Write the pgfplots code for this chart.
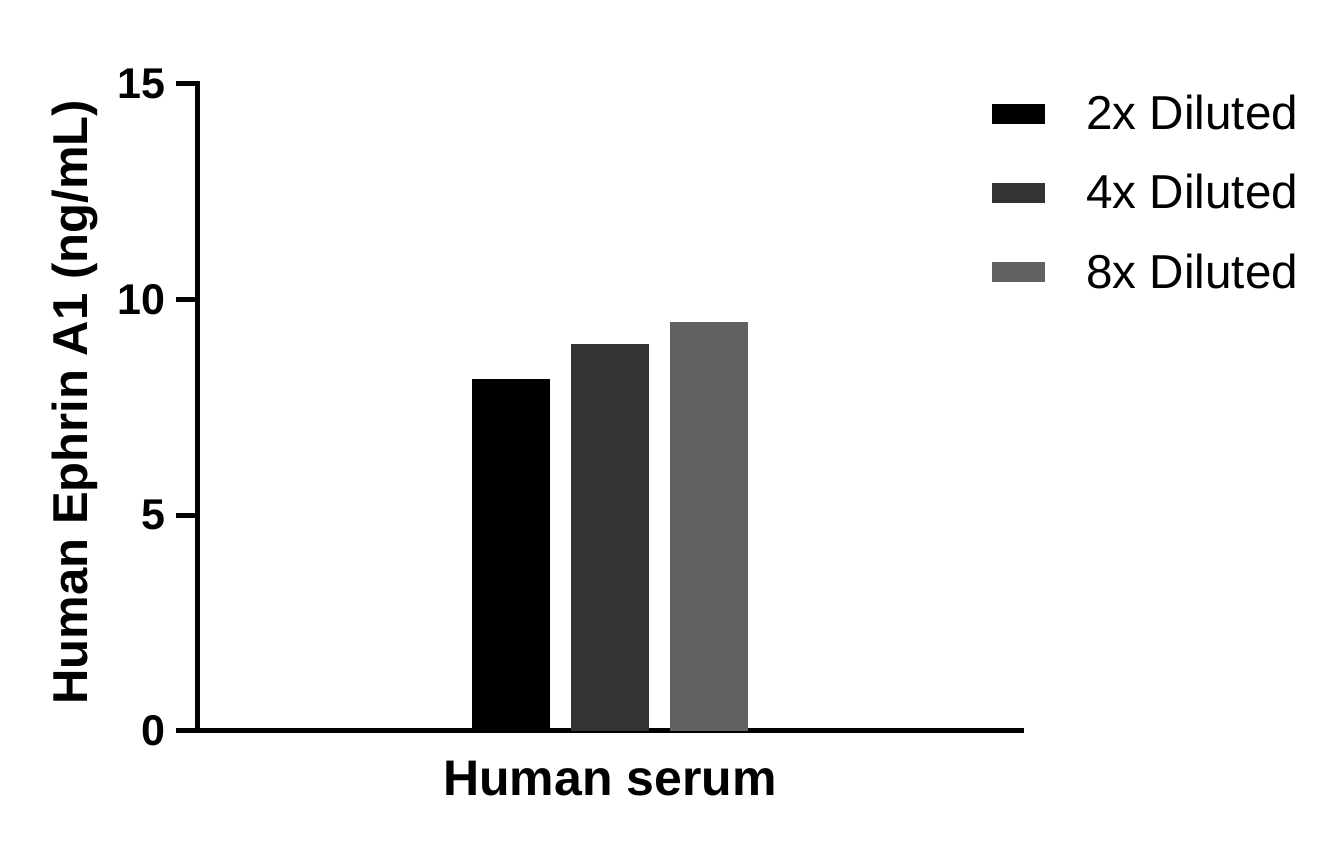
\documentclass[border=0pt]{standalone}
\usepackage{pgfplots}
\pgfplotsset{compat=1.18}
\usepackage{fontspec}
\setmainfont{Liberation Sans}

\definecolor{barA}{HTML}{000000}
\definecolor{barB}{HTML}{333333}
\definecolor{barC}{HTML}{616161}

\begin{document}
\begin{tikzpicture}
\begin{axis}[
  scale only axis,
  width=412pt,
  height=323.5pt,
  axis lines*=left,
  axis line style={line width=2.5pt, line cap=rect},
  ymin=0, ymax=15,
  ytick={0,5,10,15},
  xmin=-1, xmax=1,
  xtick={0},
  xticklabels={},
  major tick length=11pt,
  tick align=outside,
  tick style={line width=2.5pt, black},
  x tick style={draw=none},
  /pgf/number format/assume math mode=true,
  yticklabel style={font=\fontsize{21.5}{24}\selectfont\bfseries, inner sep=0pt, anchor=east, xshift=-5pt},
  ylabel={Human Ephrin A1 (ng/mL)},
  ylabel style={font=\fontsize{24.5}{28}\selectfont\bfseries, at={(axis description cs:-0.149,0.508)}, anchor=center, inner sep=0pt},
  xlabel={Human serum},
  xlabel style={font=\fontsize{25}{28}\selectfont\bfseries, at={(axis description cs:0.5,-0.074)}, anchor=center, inner sep=0pt},
  ybar,
  bar width=39pt,
  legend style={draw=none, fill=none, at={(axis description cs:0.9636,0.984)}, anchor=north west,
    font=\fontsize{23.8}{28}\selectfont, inner sep=0pt, row sep=21pt,
    nodes={inner sep=0pt},
    /tikz/every odd column/.append style={column sep=20.5pt}},
  legend cell align=left,
  legend image code/.code={\fill[#1] (0pt,-5pt) rectangle (26.5pt,5pt);},
]
\addplot[fill=barA, draw=none, bar shift=-49.5pt] coordinates {(0,8.16)};
\addplot[fill=barB, draw=none, bar shift=0pt] coordinates {(0,8.97)};
\addplot[fill=barC, draw=none, bar shift=49.5pt] coordinates {(0,9.48)};
\legend{2x Diluted,4x Diluted,8x Diluted}
\end{axis}
\pgfresetboundingbox
\path[use as bounding box] (-99pt,-60.5pt) rectangle (571.5pt,365.5pt);
\end{tikzpicture}
\end{document}
